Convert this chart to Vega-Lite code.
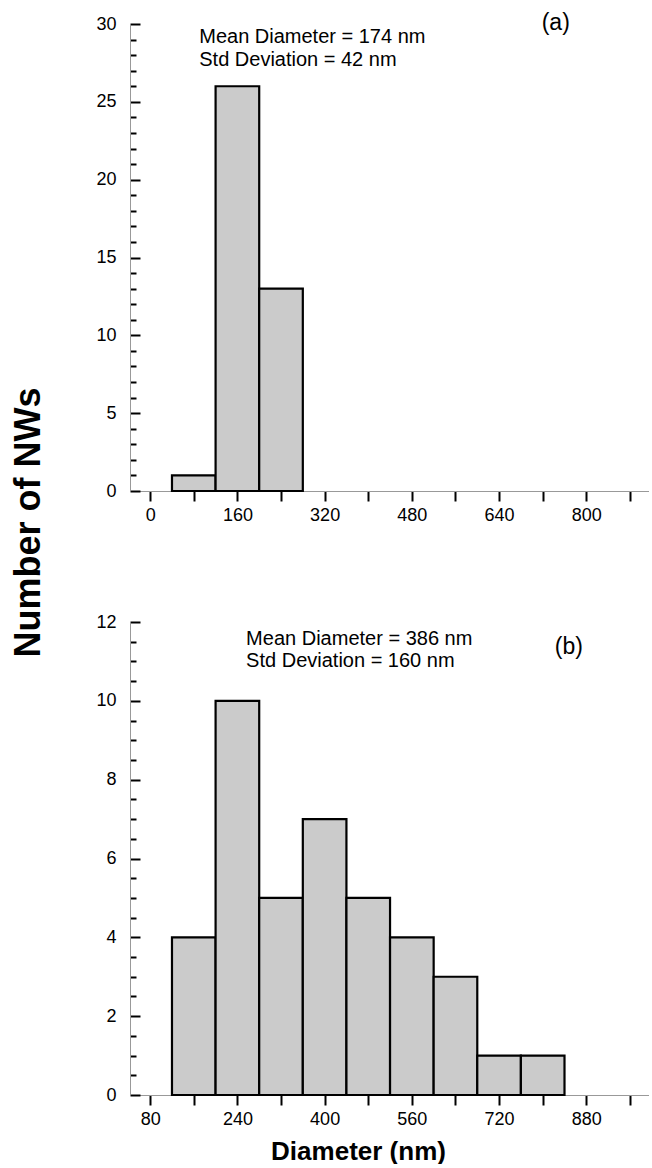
{
  "$schema": "https://vega.github.io/schema/vega-lite/v6.json",
  "background": "white",
  "padding": {"left": 10, "top": 12, "right": 0, "bottom": 0},
  "bounds": "flush",
  "spacing": 131,
  "config": {
    "view": {"stroke": null},
    "font": "Liberation Sans",
    "axis": {
      "grid": false,
      "domainColor": "#999999",
      "domainWidth": 1,
      "tickColor": "black",
      "tickWidth": 2,
      "labelFontSize": 18,
      "labelColor": "black",
      "labelFont": "Liberation Sans",
      "labelOverlap": false,
      "labelFlush": false,
      "titleColor": "black",
      "titleFont": "Liberation Sans"
    }
  },
  "datasets": {
    "a": [
      {"bin_start": 40, "bin_end": 120, "count": 1},
      {"bin_start": 120, "bin_end": 200, "count": 26},
      {"bin_start": 200, "bin_end": 280, "count": 13}
    ],
    "b": [
      {"bin_start": 120, "bin_end": 200, "count": 4},
      {"bin_start": 200, "bin_end": 280, "count": 10},
      {"bin_start": 280, "bin_end": 360, "count": 5},
      {"bin_start": 360, "bin_end": 440, "count": 7},
      {"bin_start": 440, "bin_end": 520, "count": 5},
      {"bin_start": 520, "bin_end": 600, "count": 4},
      {"bin_start": 600, "bin_end": 680, "count": 3},
      {"bin_start": 680, "bin_end": 760, "count": 1},
      {"bin_start": 760, "bin_end": 840, "count": 1}
    ]
  },
  "vconcat": [
    {
      "width": 519,
      "height": 467,
      "resolve": {"axis": {"x": "independent", "y": "independent"}},
      "layer": [
        {
          "data": {"name": "a"},
          "mark": {"type": "bar", "fill": "#cbcbcb", "stroke": "black", "strokeWidth": 2.2},
          "encoding": {
            "x": {
              "field": "bin_start", "type": "quantitative",
              "scale": {"domain": [-37, 915], "nice": false, "zero": false},
              "axis": {
                "values": [0, 80, 160, 240, 320, 400, 480, 560, 640, 720, 800, 880],
                "labelExpr": "datum.value % 160 === 0 ? format(datum.value, 'd') : ''",
                "tickSize": 10,
                "labelPadding": 5,
                "title": null
              }
            },
            "x2": {"field": "bin_end"},
            "y": {
              "field": "count", "type": "quantitative",
              "scale": {"domain": [0, 30], "nice": false, "zero": false},
              "axis": {
                "values": [0,1,2,3,4,5,6,7,8,9,10,11,12,13,14,15,16,17,18,19,20,21,22,23,24,25,26,27,28,29,30],
                "labelExpr": "datum.value % 5 === 0 ? format(datum.value, 'd') : ''",
                "tickSize": {"expr": "datum.value % 5 === 0 ? -10 : -6"},
                "labelPadding": 24,
                "title": "Number of NWs",
                "titleFontSize": 36,
                "titleFontWeight": "bold",
                "titleAngle": 270,
                "titleAlign": "center",
                "titleBaseline": "alphabetic",
                "titleX": -91,
                "titleY": 498
              }
            },
            "y2": {"datum": 0}
          }
        },
        {
          "data": {"values": [{"label": "Mean Diameter = 174 nm\nStd Deviation = 42 nm"}]},
          "mark": {"type": "text", "align": "left", "baseline": "alphabetic", "fontSize": 20, "lineHeight": 22.4, "lineBreak": "\n", "color": "black"},
          "encoding": {
            "x": {"datum": 90, "type": "quantitative", "axis": null},
            "y": {"datum": 28.75, "type": "quantitative", "axis": null},
            "text": {"field": "label"}
          }
        },
        {
          "data": {"values": [{"label": "(a)"}]},
          "mark": {"type": "text", "align": "center", "baseline": "middle", "fontSize": 23, "color": "black"},
          "encoding": {
            "x": {"datum": 744, "type": "quantitative", "axis": null},
            "y": {"datum": 30.06, "type": "quantitative", "axis": null},
            "text": {"field": "label"}
          }
        }
      ]
    },
    {
      "width": 519,
      "height": 473,
      "resolve": {"axis": {"x": "independent", "y": "independent"}},
      "layer": [
        {
          "data": {"name": "b"},
          "mark": {"type": "bar", "fill": "#cbcbcb", "stroke": "black", "strokeWidth": 2.2},
          "encoding": {
            "x": {
              "field": "bin_start", "type": "quantitative",
              "scale": {"domain": [43, 995], "nice": false, "zero": false},
              "axis": {
                "values": [80, 160, 240, 320, 400, 480, 560, 640, 720, 800, 880, 960],
                "labelExpr": "(datum.value - 80) % 160 === 0 ? format(datum.value, 'd') : ''",
                "tickSize": 10,
                "labelPadding": 5,
                "title": "Diameter (nm)",
                "titleFontSize": 26,
                "titleFontWeight": "bold",
                "titleBaseline": "alphabetic",
                "titleAnchor": "start",
                "titleAlign": "center",
                "titleX": 228,
                "titleY": 64
              }
            },
            "x2": {"field": "bin_end"},
            "y": {
              "field": "count", "type": "quantitative",
              "scale": {"domain": [0, 12], "nice": false, "zero": false},
              "axis": {
                "values": [0,0.5,1,1.5,2,2.5,3,3.5,4,4.5,5,5.5,6,6.5,7,7.5,8,8.5,9,9.5,10,10.5,11,11.5,12],
                "labelExpr": "datum.value % 2 === 0 ? format(datum.value, 'd') : ''",
                "tickSize": {"expr": "datum.value % 2 === 0 ? -10 : -6"},
                "labelPadding": 24,
                "title": null
              }
            },
            "y2": {"datum": 0}
          }
        },
        {
          "data": {"values": [{"label": "Mean Diameter = 386 nm\nStd Deviation = 160 nm"}]},
          "mark": {"type": "text", "align": "left", "baseline": "alphabetic", "fontSize": 20, "lineHeight": 22.4, "lineBreak": "\n", "color": "black"},
          "encoding": {
            "x": {"datum": 256, "type": "quantitative", "axis": null},
            "y": {"datum": 11.42, "type": "quantitative", "axis": null},
            "text": {"field": "label"}
          }
        },
        {
          "data": {"values": [{"label": "(b)"}]},
          "mark": {"type": "text", "align": "center", "baseline": "middle", "fontSize": 23, "color": "black"},
          "encoding": {
            "x": {"datum": 848, "type": "quantitative", "axis": null},
            "y": {"datum": 11.36, "type": "quantitative", "axis": null},
            "text": {"field": "label"}
          }
        }
      ]
    }
  ]
}
